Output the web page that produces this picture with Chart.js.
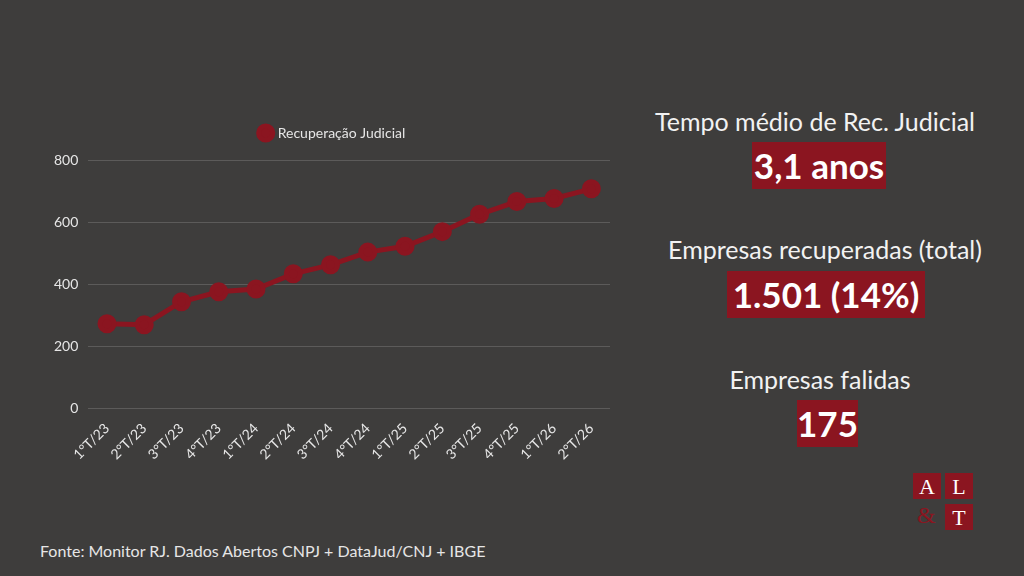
<!DOCTYPE html>
<html><head><meta charset="utf-8">
<script src="https://cdn.jsdelivr.net/npm/chart.js@4"></script>
<style>
html,body{margin:0;padding:0;}
body{width:1024px;height:576px;background:#3e3d3c;position:relative;overflow:hidden;font-family:Lato,"Open Sans",sans-serif;color:#fff;}
#wrap{position:absolute;left:44px;top:112px;width:578px;height:355px;}
.lbl{position:absolute;text-align:center;color:#f2f2f2;font-size:25px;white-space:nowrap;}
.box{position:absolute;background:#8b1520;color:#fff;font-weight:bold;font-size:35px;text-align:center;line-height:47px;height:47px;white-space:nowrap;}
.src{position:absolute;left:40px;top:541px;font-size:16px;color:#e6e6e6;}
.lg{position:absolute;background:#8b1520;color:#fff;font-family:"Liberation Serif","DejaVu Serif",serif;font-size:22px;text-align:center;width:28px;height:26px;line-height:27px;}
.amp{position:absolute;color:#8b1520;font-family:"Liberation Serif",serif;font-size:24px;}
</style></head>
<body>
<div id="wrap"><canvas id="c"></canvas></div>

<div class="lbl" style="left:640px;width:350px;top:106px;">Tempo médio de Rec. Judicial</div>
<div class="box" style="left:752px;width:134px;top:142px;">3,1 anos</div>
<div class="lbl" style="left:650px;width:350px;top:234px;">Empresas recuperadas (total)</div>
<div class="box" style="left:727px;width:198px;top:271px;">1.501 (14%)</div>
<div class="lbl" style="left:645px;width:350px;top:364px;">Empresas falidas</div>
<div class="box" style="left:797px;width:61px;top:400px;">175</div>

<div class="lg" style="left:913px;top:473px;">A</div>
<div class="lg" style="left:945px;top:473px;">L</div>
<div class="amp" style="left:917px;top:502px;">&amp;</div>
<div class="lg" style="left:945px;top:504px;">T</div>

<div class="src">Fonte: Monitor RJ. Dados Abertos CNPJ + DataJud/CNJ + IBGE</div>

<script>
const categories = ["1°T/23","2°T/23","3°T/23","4°T/23","1°T/24","2°T/24","3°T/24","4°T/24","1°T/25","2°T/25","3°T/25","4°T/25","1°T/26","2°T/26"];
const recuperacaoJudicial = [272,269,343,375,384,433,462,503,522,569,625,666,676,707];
const yTicks = [0,200,400,600,800];

const red = '#8b1520';
const legendGap = {
  id: 'legendGap',
  beforeInit(chart) {
    const orig = chart.legend.fit;
    chart.legend.fit = function () { orig.call(this); this.height += 10; };
  }
};
new Chart(document.getElementById('c'), {
  type: 'line',
  plugins: [legendGap],
  data: {
    labels: categories,
    datasets: [{
      label: 'Recuperação Judicial',
      data: recuperacaoJudicial,
      borderColor: red,
      backgroundColor: red,
      borderWidth: 5,
      pointRadius: 7,
      pointHoverRadius: 7,
      pointBackgroundColor: red,
      pointBorderColor: red,
      tension: 0
    }]
  },
  options: {
    responsive: true,
    maintainAspectRatio: false,
    animation: false,
    layout: { padding: { left: 0, right: 0, top: 0, bottom: 0 } },
    plugins: {
      legend: {
        display: true,
        labels: {
          usePointStyle: true,
          pointStyle: 'circle',
          boxWidth: 10,
          boxHeight: 10,
          padding: 14,
          color: '#e6e6e6',
          font: { family: 'Lato', size: 14 }
        }
      },
      tooltip: { enabled: false }
    },
    scales: {
      x: {
        offset: true,
        grid: { display: false },
        border: { display: false },
        ticks: {
          color: '#e6e6e6',
          font: { family: 'Lato', size: 14 },
          padding: 4,
          maxRotation: 45, minRotation: 45, autoSkip: false
        }
      },
      y: {
        min: 0, max: 800,
        afterBuildTicks: (ax) => { ax.ticks = yTicks.map(v => ({ value: v })); },
        grid: { color: '#5c5b5a', lineWidth: 1, drawTicks: false },
        border: { display: false },
        ticks: {
          color: '#e6e6e6',
          font: { family: 'Lato', size: 14 },
          padding: 10
        }
      }
    }
  }
});
</script>
</body></html>
